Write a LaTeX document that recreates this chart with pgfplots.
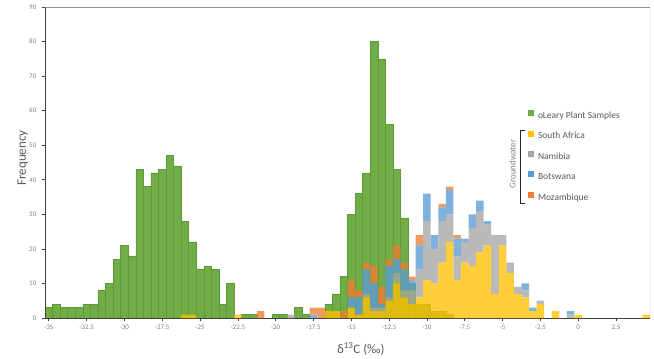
\documentclass[border=0pt]{standalone}
\usepackage{fontspec}
\setmainfont{Carlito}
\usepackage{pgfplots}
\pgfplotsset{compat=1.18}
\usepackage{pgfplotstable}

\definecolor{cgreen}{HTML}{70AD47}
\definecolor{cgreenE}{HTML}{5E9A38}
\definecolor{cyellow}{HTML}{FFC000}
\definecolor{cgray}{HTML}{A5A5A5}
\definecolor{cblue}{HTML}{5B9BD5}
\definecolor{corange}{HTML}{ED7D31}
\definecolor{labgray}{HTML}{595959}
\definecolor{tickgray}{HTML}{7F7F7F}

\pgfplotstableread{
x y
-35 3
-34.5 4
-34 3
-33.5 3
-33 3
-32.5 4
-32 4
-31.5 8
-31 10
-30.5 17
-30 21
-29.5 18
-29 43
-28.5 38
-28 42
-27.5 43
-27 47
-26.5 44
-26 28
-25.5 22
-25 14
-24.5 15
-24 14
-23.5 4
-23 10
-22 1
-21.5 1
-20 1
-19.5 1
-18.5 3
-18 1
-16.5 4
-16 7
-15.5 12
-15 30
-14.5 36
-14 42
-13.5 80
-13 75
-12.5 56
-12 43
-11.5 29
-11 10
-10.5 4
-10 4
-9.5 2
-9 2
-8.5 1
}\greendata

\pgfplotstableread{
x sa na bo mo
-26 1 0 0 0
-25.5 1 0 0 0
-22.5 1 0 0 0
-21 0 0 0 2
-19 0 1 0 0
-17.5 0 0 1 2
-17 0 0 0 3
-16.5 2 0 0 0
-16 2 0 0 0
-15.5 0 0 0 2
-15 3 0 3 5
-14.5 1 0 5 2
-14 6 1 7 2
-13.5 2 1 7 5
-13 2 1 1 5
-12.5 5 1 9 2
-12 10 3 4 4
-11.5 6 2 6 2
-11 4 4 3 1
-10.5 6 8 7 3
-10 11 17 8 0
-9.5 10 10 4 0
-9 16 12 4 1
-8.5 22 8 7 1
-8 11 7 5 1
-7.5 16 6 1 0
-7 15 11 4 0
-6.5 19 12 3 0
-6 21 6 1 0
-5.5 7 17 0 0
-5 21 3 0 0
-4.5 13 3 0 0
-4 7 2 0 0
-3.5 6 2 2 0
-3 2 0 1 0
-2.5 4 1 0 0
-1.5 2 0 0 0
-0.5 0 1 1 0
0 1 0 0 0
4.5 1 0 0 0
}\gwdata

\pgfplotsset{
  common/.style={
    at={(0,0)}, anchor=south west,
    scale only axis, width=605bp, height=311bp,
    xmin=-35.25, xmax=4.75, ymin=0, ymax=90,
    bar width=0.5,
  },
  sq legend/.style={legend image code/.code={
      \fill[##1, fill opacity=1] (0bp,0bp) rectangle (6bp,6bp);
      \path (0bp,0bp) -- (10bp,0bp);}},
}

\begin{document}
\begin{tikzpicture}
\begin{axis}[common, ybar, bar shift=0pt, hide axis]
\addplot[fill=cgreen, draw=cgreenE, line width=0.4bp] table[x=x,y=y]{\greendata};
\end{axis}

\begin{axis}[common, ybar stacked,
  axis x line*=bottom, axis y line*=left,
  axis line style={draw=black!75, line width=0.8bp},
  tick align=outside, major tick length=3bp,
  tick style={draw=black!75, line width=0.6bp},
  xtick={-35,-32.5,-30,-27.5,-25,-22.5,-20,-17.5,-15,-12.5,-10,-7.5,-5,-2.5,0,2.5},
  ytick={0,10,20,30,40,50,60,70,80,90},
  /pgf/number format/assume math mode=true,
  tick label style={font=\fontsize{7}{8}\selectfont, text=tickgray},
  xticklabel style={inner sep=0pt, anchor=north, yshift=-3.5bp},
  yticklabel style={inner sep=0pt, anchor=east, xshift=-5.5bp},
  xlabel={δ\textsuperscript{13}C (‰)},
  ylabel={Frequency},
  every axis x label/.style={at={(axis description cs:0.522,-0.0997)}, anchor=center},
  every axis y label/.style={at={(axis description cs:-0.0367,0.5145)}, anchor=center, rotate=90},
  label style={font=\fontsize{13}{15}\selectfont, text=labgray},
  legend cell align=left,
  legend style={at={(0.798,0.669)}, anchor=north west, draw=none, fill=none,
    inner sep=0pt, row sep=10.2bp,
    font=\fontsize{9.5}{11}\selectfont, text=labgray,
    nodes={inner sep=0pt, text height=6.5bp, text depth=2bp}},
]
\addlegendimage{sq legend, fill=cgreen, draw=none}
\addlegendentry{oLeary Plant Samples}
\addplot[sq legend, fill=cyellow, draw=none, fill opacity=0.78] table[x=x,y=sa]{\gwdata};
\addlegendentry{South Africa}
\addplot[sq legend, fill=cgray, draw=none, fill opacity=0.78] table[x=x,y=na]{\gwdata};
\addlegendentry{Namibia}
\addplot[sq legend, fill=cblue, draw=none, fill opacity=0.78] table[x=x,y=bo]{\gwdata};
\addlegendentry{Botswana}
\addplot[sq legend, fill=corange, draw=none, fill opacity=0.78] table[x=x,y=mo]{\gwdata};
\addlegendentry{Mozambique}
\draw[black!45, line width=0.6bp] (rel axis cs:0,1) -- (rel axis cs:1,1) -- (rel axis cs:1,0);
\draw[black!85, line width=0.6bp] (rel axis cs:0.7934,0.6045) -- (rel axis cs:0.785,0.6045) -- (rel axis cs:0.785,0.370) -- (rel axis cs:0.7934,0.370);
\node[rotate=90, font=\fontsize{9}{10}\selectfont, text=tickgray] at (rel axis cs:0.7727,0.4952) {Groundwater};
\coordinate (A) at (rel axis cs:0,0);
\coordinate (B) at (rel axis cs:1,1);
\end{axis}
\pgfresetboundingbox
\path ([xshift=-45bp,yshift=-40bp]A) rectangle ([xshift=4bp,yshift=7bp]B);
\end{tikzpicture}
\end{document}
